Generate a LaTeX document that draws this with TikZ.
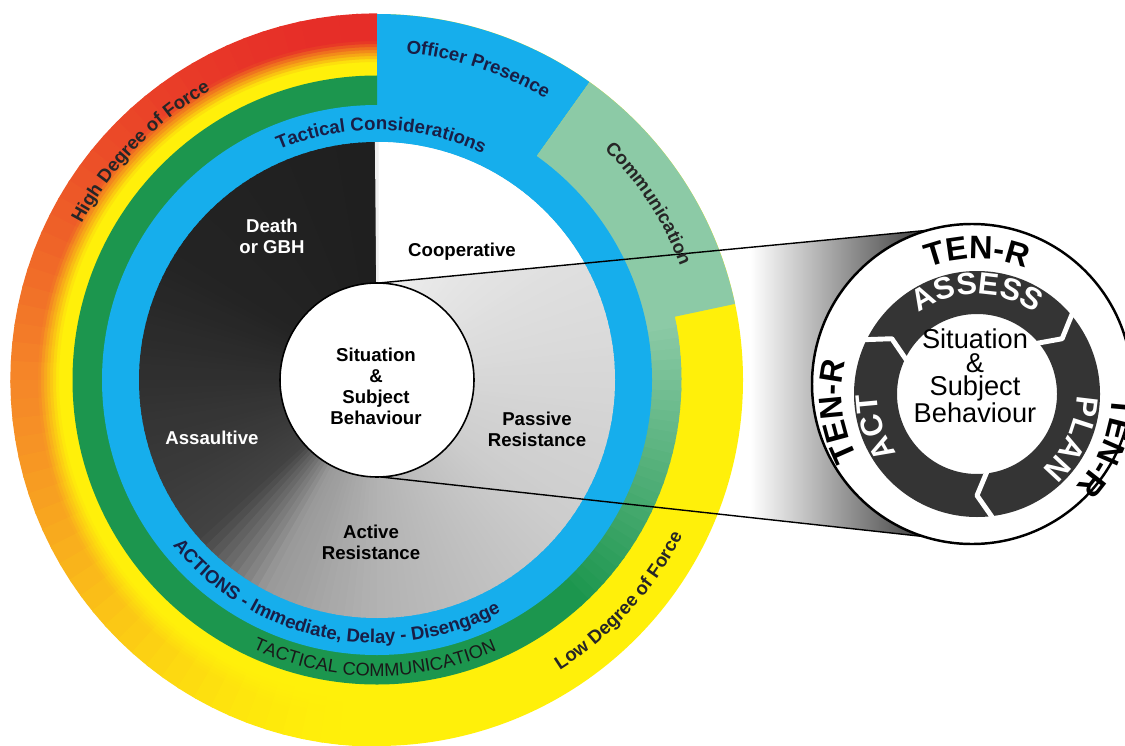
\documentclass[tikz,border=0pt]{standalone}
\usepackage{fontspec}
\setmainfont{Liberation Sans}
\usetikzlibrary{decorations.text}

\definecolor{cblue}{RGB}{22,174,236}
\definecolor{cgreen}{RGB}{28,150,78}
\definecolor{cteal}{RGB}{140,202,166}
\definecolor{cyellow}{RGB}{255,240,10}
\definecolor{corange}{RGB}{245,135,40}
\definecolor{cred}{RGB}{230,45,40}
\definecolor{navy}{RGB}{25,30,70}
\definecolor{ringdark}{RGB}{52,52,52}

% annular sector around (M): start angle, end angle, inner radius, outer radius
\newcommand\annsec[4]{([shift={(M)}]#1:#4) arc[start angle=#1,end angle=#2,radius=#4] -- ([shift={(M)}]#2:#3) arc[start angle=#2,end angle=#1,radius=#3] -- cycle}
\newcommand\rf{\fontsize{10.6}{12}\selectfont\bfseries}
\newcommand\rfn{\fontsize{10.4}{12}\selectfont}
\newcommand\mbig{\fontsize{18.5}{20}\selectfont\bfseries}
\newcommand\mstep{\fontsize{17.5}{18}\selectfont\bfseries}

\begin{document}
\begin{tikzpicture}[x=0.02cm,y=0.02cm,line join=round,
  lbl/.style={font=\fontsize{10.6}{12}\selectfont\bfseries, align=center, inner sep=0pt},
  conline/.style={line width=0.8pt}]
\useasboundingbox (0,0) rectangle (1125,745);
\clip (0,0) rectangle (1125,745);
\fill[white] (0,0) rectangle (1125,745);

\coordinate (M) at (377,365);   % centre of the force wheel
\coordinate (G) at (972,361);   % centre of the magnifier
\coordinate (H) at (977,351);   % centre of the TEN-R ring
\coordinate (top) at (0,745);
\coordinate (A) at ([shift={(M)}]89:97);
\coordinate (A2) at ([shift={(M)}]-88:97);
\coordinate (B) at ([shift={(G)}]106.1:160);
\coordinate (B2) at ([shift={(G)}]252.5:160);

% magnifying cone
\begin{scope}
  \clip (A) -- (B) -- (G) -- (B2) -- (A2) -- cycle;
  \shade[left color=white, right color=black!78] (750,150) rectangle (930,600);
\end{scope}

% force ring: yellow, turning orange and red towards the upper-left rim
\fill[cyellow] (M) circle (366);
\foreach \i in {0,...,59}{
  \pgfmathsetmacro\s{90+3*\i}
  \pgfmathsetmacro\e{\s+3.5}
  \pgfmathsetmacro\t{(1-sin(\s+1.5))/2}
  \pgfmathsetmacro\q{\t<0.5 ? 200*\t : 100*(max(2*\t-1,0.001)^1.3)}
  \ifdim\t pt<0.5pt \colorlet{oc}{corange!\q!cred}\else\colorlet{oc}{cyellow!\q!corange}\fi
  \foreach \j in {0,...,18}{
    \pgfmathsetmacro\ra{309+3*\j}
    \pgfmathsetmacro\rb{\ra+3.6}
    \pgfmathsetmacro\w{100*min(max(((\ra+1.5-304)/62-0.22)/0.34,0),1)}
    \fill[oc!\w!cyellow] \annsec{\s}{\e}{\ra}{\rb};
  }
}

% officer presence and communication
\fill[cblue] \annsec{54.5}{90}{270}{366};
\fill[cteal] \annsec{12}{54.5}{270}{366};

% tactical communication ring
\fill[cgreen] \annsec{90}{312.5}{272}{304.5};
\foreach \i in {0,...,29}{
  \pgfmathsetmacro\s{312+2*\i}
  \pgfmathsetmacro\e{\s+2.5}
  \pgfmathsetmacro\p{100*\i/29}
  \fill[cteal!\p!cgreen] \annsec{\s}{\e}{272}{304.5};
}

% tactical considerations ring
\fill[cblue] (M) circle (275);

% subject behaviour pie
\foreach \a/\b/\ka/\kb in {90/150/88/86,150/200/86/78,200/222/78/74,222/242/74/40,242/270/40/30,270/320/30/20,320/450/20/6}{
  \pgfmathtruncatemacro\n{(\b-\a)/2}
  \foreach \i in {1,...,\n}{
    \pgfmathsetmacro\s{\a+2*(\i-1)}
    \pgfmathsetmacro\e{\s+2.5}
    \pgfmathsetmacro\k{\ka+(\kb-\ka)*(\i-0.5)/\n}
    \fill[black!\k] (M) -- ([shift={(M)}]\s:238) arc[start angle=\s,end angle=\e,radius=238] -- cycle;
  }
}
\begin{scope}
  \clip (M) circle (238);
  \fill[white] (A) -- (B) -- (B |- top) -- (A |- top) -- cycle;
\end{scope}

% centre circle
\draw[line width=0.9pt, fill=white] (M) circle (97);
\node[lbl] (sit) at (376,359) {Situation\\\&\\Subject\\Behaviour};

% cone lines
\draw[conline] (A) -- (B);
\draw[conline] (A2) -- (B2);

% sector labels
\node[lbl, text=white] (death) at (272,508.5) {Death\\or GBH};
\node[lbl] (coop) at (462,493) {Cooperative};
\node[lbl, text=white] (assault) at (212,307) {Assaultive};
\node[lbl] (passive) at (537,316) {Passive\\Resistance};
\node[lbl] (active) at (371,203) {Active\\Resistance};

% ring texts
\path[decorate, decoration={text along path, text align=center, text color=black!85,
  text={|\rf|High Degree of Force}}]
  ([shift={(M)}]186:334) arc[start angle=186,end angle=86,radius=334];
\path[decorate, decoration={text along path, text align=center, text color=navy,
  text={|\rf|Officer Presence}}]
  ([shift={(M)}]122:328) arc[start angle=122,end angle=22,radius=328];
\path[decorate, decoration={text along path, text align=center, text color=black!85,
  text={|\rf|Communication}}]
  ([shift={(M)}]83:324) arc[start angle=83,end angle=-17,radius=324];
\path[decorate, decoration={text along path, text align=center, text color=navy,
  text={|\rf|Tactical Considerations}}]
  ([shift={(M)}]159:250) arc[start angle=159,end angle=19,radius=250];
\path[decorate, decoration={text along path, text align=center, text color=navy,
  text={|\rf|ACTIONS - Immediate, Delay - Disengage}}]
  ([shift={(M)}]188.6:263) arc[start angle=188.6,end angle=328.6,radius=263];
\path[decorate, decoration={text along path, text align=center, text color=black!90,
  text={|\rfn|TACTICAL COMMUNICATION}}]
  ([shift={(M)}]209.5:296) arc[start angle=209.5,end angle=329.5,radius=296];
\path[decorate, decoration={text along path, text align=center, text color=black!85,
  text={|\rf|Low Degree of Force}}]
  ([shift={(M)}]267.6:343) arc[start angle=267.6,end angle=367.6,radius=343];

% magnifier
\draw[line width=1.4pt, fill=white] (G) circle (160);
\fill[ringdark, even odd rule] (H) circle (123) (H) circle (80);
\foreach \p in {33,147,270}{
  \draw[white, line width=2.8pt, line cap=round]
    ([shift={(H)}]\p+7:79) -- ([shift={(H)}]\p:101.5) -- ([shift={(H)}]\p+7:124);
}
\node[font=\fontsize{15.5}{13.2}\selectfont, align=center, inner sep=0pt] (msit) at (975,369)
  {Situation\\\&\\Subject\\Behaviour};

\foreach \c in {90,-22,187}{
  \path[decorate, decoration={text along path, text align=center,
    text={|\mbig|TEN-R}}]
    ([shift={(H)}]\c+50:135) arc[start angle=\c+50,end angle=\c-50,radius=135];
}
\path[decorate, decoration={text along path, text align=center, text color=white,
  text={|\mstep|ASSESS}}]
  ([shift={(H)}]150:99.5) arc[start angle=150,end angle=30,radius=99.5];
\path[decorate, decoration={text along path, text align=center, text color=white,
  text={|\mstep|PLAN}}]
  ([shift={(H)}]35:99.5) arc[start angle=35,end angle=-85,radius=99.5];
\path[decorate, decoration={text along path, text align=center, text color=white,
  text={|\mstep|ACT}}]
  ([shift={(H)}]258:99.5) arc[start angle=258,end angle=138,radius=99.5];
\end{tikzpicture}
\end{document}
